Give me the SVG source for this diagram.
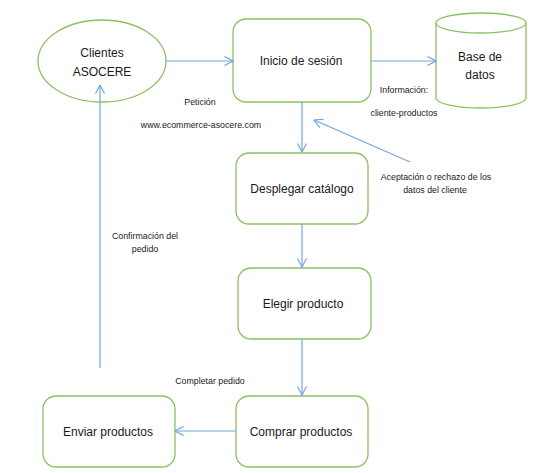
<svg xmlns="http://www.w3.org/2000/svg" width="543" height="473" viewBox="0 0 543 473">
<defs>
<style>
.n{fill:#fff;stroke:#8cc162;stroke-width:1.3}
.c{fill:none;stroke:#6fa6dc;stroke-width:1.2}
.t{font-family:"Liberation Sans",Arial,sans-serif;font-size:12px;fill:#1a1a1a;text-anchor:middle}
.s{font-family:"Liberation Sans",Arial,sans-serif;font-size:8.8px;fill:#1a1a1a;text-anchor:middle}
</style>
<marker id="a" viewBox="0 0 10 10" refX="9.5" refY="5" markerWidth="10" markerHeight="10" markerUnits="userSpaceOnUse" orient="auto">
<path d="M1,0.5 L9.5,5 L1,9.5" fill="none" stroke="#6fa6dc" stroke-width="1.2"/>
</marker>
</defs>
<rect width="543" height="473" fill="#fff"/>
<g id="clientes">
<ellipse class="n" cx="102" cy="61" rx="64" ry="41"/>
<text class="t" x="102" y="57">Clientes</text>
<text class="t" x="102" y="76">ASOCERE</text>
</g>
<g id="inicio">
<rect class="n" x="233" y="19" width="138" height="83" rx="13"/>
<text class="t" x="301" y="65">Inicio de sesión</text>
</g>
<g id="base">
<path class="n" d="M436,23 L436,98 A45,10 0 0 0 526,98 L526,23"/>
<ellipse class="n" cx="481" cy="23" rx="45" ry="10"/>
<text class="t" x="480" y="61">Base de</text>
<text class="t" x="480" y="79">datos</text>
</g>
<g id="desplegar">
<rect class="n" x="236" y="153" width="132" height="71" rx="13"/>
<text class="t" x="302" y="193">Desplegar catálogo</text>
</g>
<g id="elegir">
<rect class="n" x="238" y="268" width="133" height="71" rx="13"/>
<text class="t" x="303" y="308">Elegir producto</text>
</g>
<g id="comprar">
<rect class="n" x="236" y="396" width="132" height="71" rx="13"/>
<text class="t" x="301" y="436">Comprar productos</text>
</g>
<g id="enviar">
<rect class="n" x="43" y="396" width="132" height="71" rx="13"/>
<text class="t" x="108" y="436">Enviar productos</text>
</g>
<g id="connectors">
<line class="c" x1="166" y1="61" x2="233" y2="61" marker-end="url(#a)"/>
<line class="c" x1="371" y1="61" x2="436" y2="61" marker-end="url(#a)"/>
<line class="c" x1="302" y1="102" x2="302" y2="152" marker-end="url(#a)"/>
<line class="c" x1="410" y1="162" x2="314" y2="120" marker-end="url(#a)"/>
<line class="c" x1="302" y1="224" x2="302" y2="267" marker-end="url(#a)"/>
<line class="c" x1="302" y1="339" x2="302" y2="395" marker-end="url(#a)"/>
<line class="c" x1="236" y1="431" x2="175" y2="431" marker-end="url(#a)"/>
<line class="c" x1="100" y1="368" x2="100" y2="85" marker-end="url(#a)"/>
</g>
<g id="labels">
<text class="s" x="200" y="105">Petición</text>
<text class="s" x="201" y="128">www.ecommerce-asocere.com</text>
<text class="s" x="404" y="93">Información:</text>
<text class="s" x="404" y="116">cliente-productos</text>
<text class="s" x="436" y="180">Aceptación o rechazo de los</text>
<text class="s" x="435" y="193">datos del cliente</text>
<text class="s" x="145" y="239">Confirmación del</text>
<text class="s" x="145" y="252">pedido</text>
<text class="s" x="210" y="384">Completar pedido</text>
</g>
</svg>
